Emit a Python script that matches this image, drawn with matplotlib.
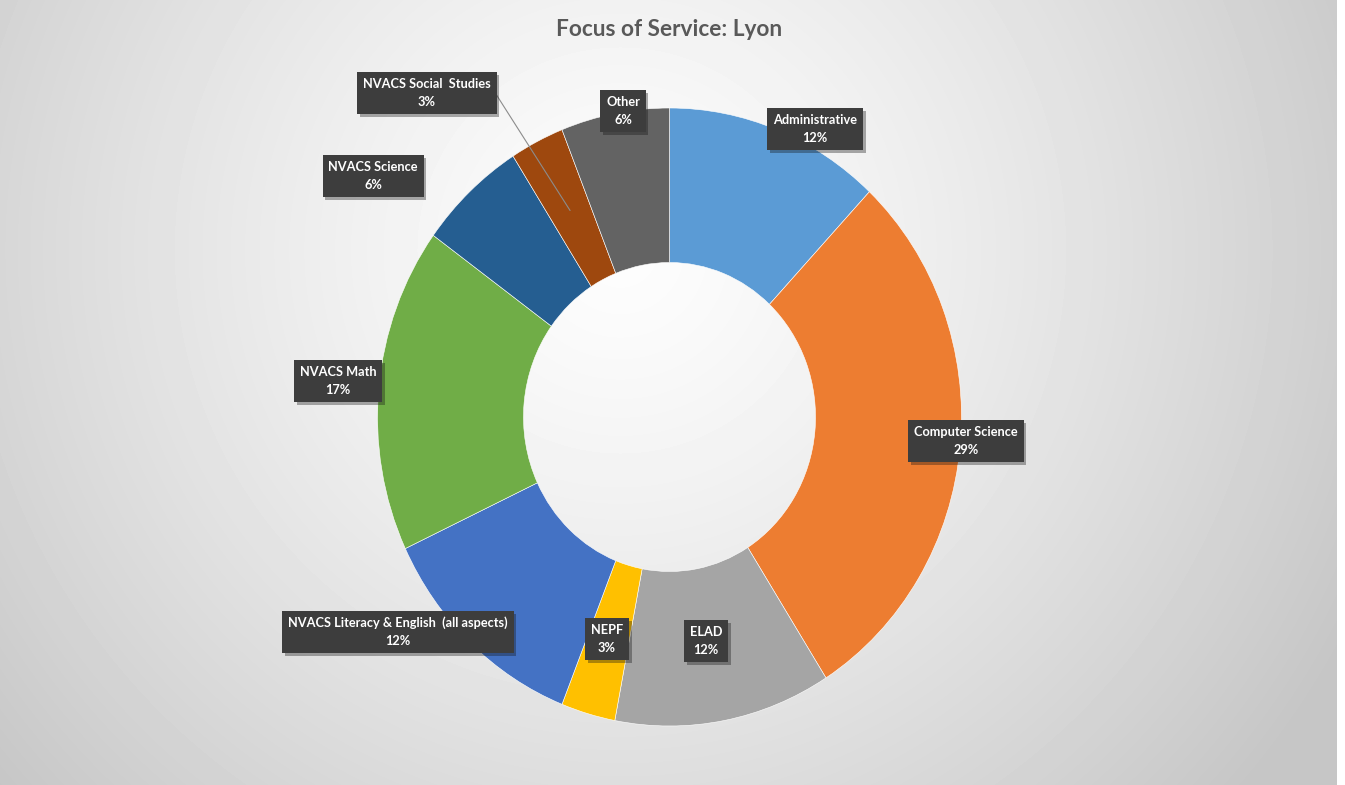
import numpy as np
import matplotlib.pyplot as plt
from matplotlib import patheffects as pe
from matplotlib.patches import ConnectionPatch

# focus areas and their share of service (%)
categories = ['Administrative', 'Computer Science', 'ELAD', 'NEPF',
              'NVACS Literacy & English  (all aspects)', 'NVACS Math',
              'NVACS Science', 'NVACS Social  Studies', 'Other']
shares = [12, 29, 12, 3, 12, 17, 6, 3, 6]
colors = ['#5B9BD5', '#ED7D31', '#A5A5A5', '#FFC000', '#4472C4',
          '#70AD47', '#255E91', '#9E480E', '#636363']

# callout centres in figure pixels (x from left, y from top)
label_pos = [(815, 129), (966, 441), (706, 641), (607, 639), (398, 632),
             (338, 381), (373, 176), (427, 93), (623, 111)]

W, H = 1345, 785
fig = plt.figure(figsize=(W / 100, H / 100), dpi=100)
fig.patch.set_facecolor('white')

# soft radial grey backdrop
bw = 1337
bg = fig.add_axes([0, 0, bw / W, 1])
yy, xx = np.mgrid[0:H, 0:bw]
d = np.hypot(xx - 620, yy - 250) / 820
shade = 253 - 55 * np.clip(d, 0, 1) ** 1.3
bg.imshow(shade, cmap='gray', vmin=0, vmax=255, aspect='auto',
          interpolation='bilinear')
bg.axis('off')

# donut (slightly taller than wide)
cx, cy, rx, ry, m = 669.5, 417, 292, 309, 1.05
ax = fig.add_axes([(cx - rx * m) / W, (H - cy - ry * m) / H,
                   2 * rx * m / W, 2 * ry * m / H])
wedges, _ = ax.pie(shares, colors=colors, startangle=90, counterclock=False,
                   wedgeprops=dict(width=0.5, edgecolor='white', linewidth=0.4))
ax.set_aspect('auto')
ax.set_xlim(-m, m)
ax.set_ylim(-m, m)
ax.axis('off')

fig.text(cx / W, 1 - 30 / H, 'Focus of Service: Lyon', ha='center',
         va='center', fontsize=16.3, color='#595959', family='Lato',
         weight='bold')

shadow = [pe.SimplePatchShadow(offset=(2, -2), alpha=0.35), pe.Normal()]
for name, val, (px, py) in zip(categories, shares, label_pos):
    t = fig.text(px / W, 1 - py / H, f'{name}\n{val}%', ha='center',
                 va='center', ma='center', fontsize=9.2, color='white',
                 family='Lato', weight='bold', linespacing=1.6,
                 bbox=dict(boxstyle='square,pad=0.45', fc='#3d3d3d',
                           ec='none'))
    t.get_bbox_patch().set_path_effects(shadow)

# leader line for the thin social studies slice
w = wedges[categories.index('NVACS Social  Studies')]
mid = np.deg2rad((w.theta1 + w.theta2) / 2)
line = ConnectionPatch(xyA=(494, H - 91), coordsA='figure pixels',
                       xyB=(0.75 * np.cos(mid), 0.75 * np.sin(mid)),
                       coordsB=ax.transData, color='#8c8c8c', lw=0.8)
fig.add_artist(line)

fig.savefig('out.png', dpi=100)
